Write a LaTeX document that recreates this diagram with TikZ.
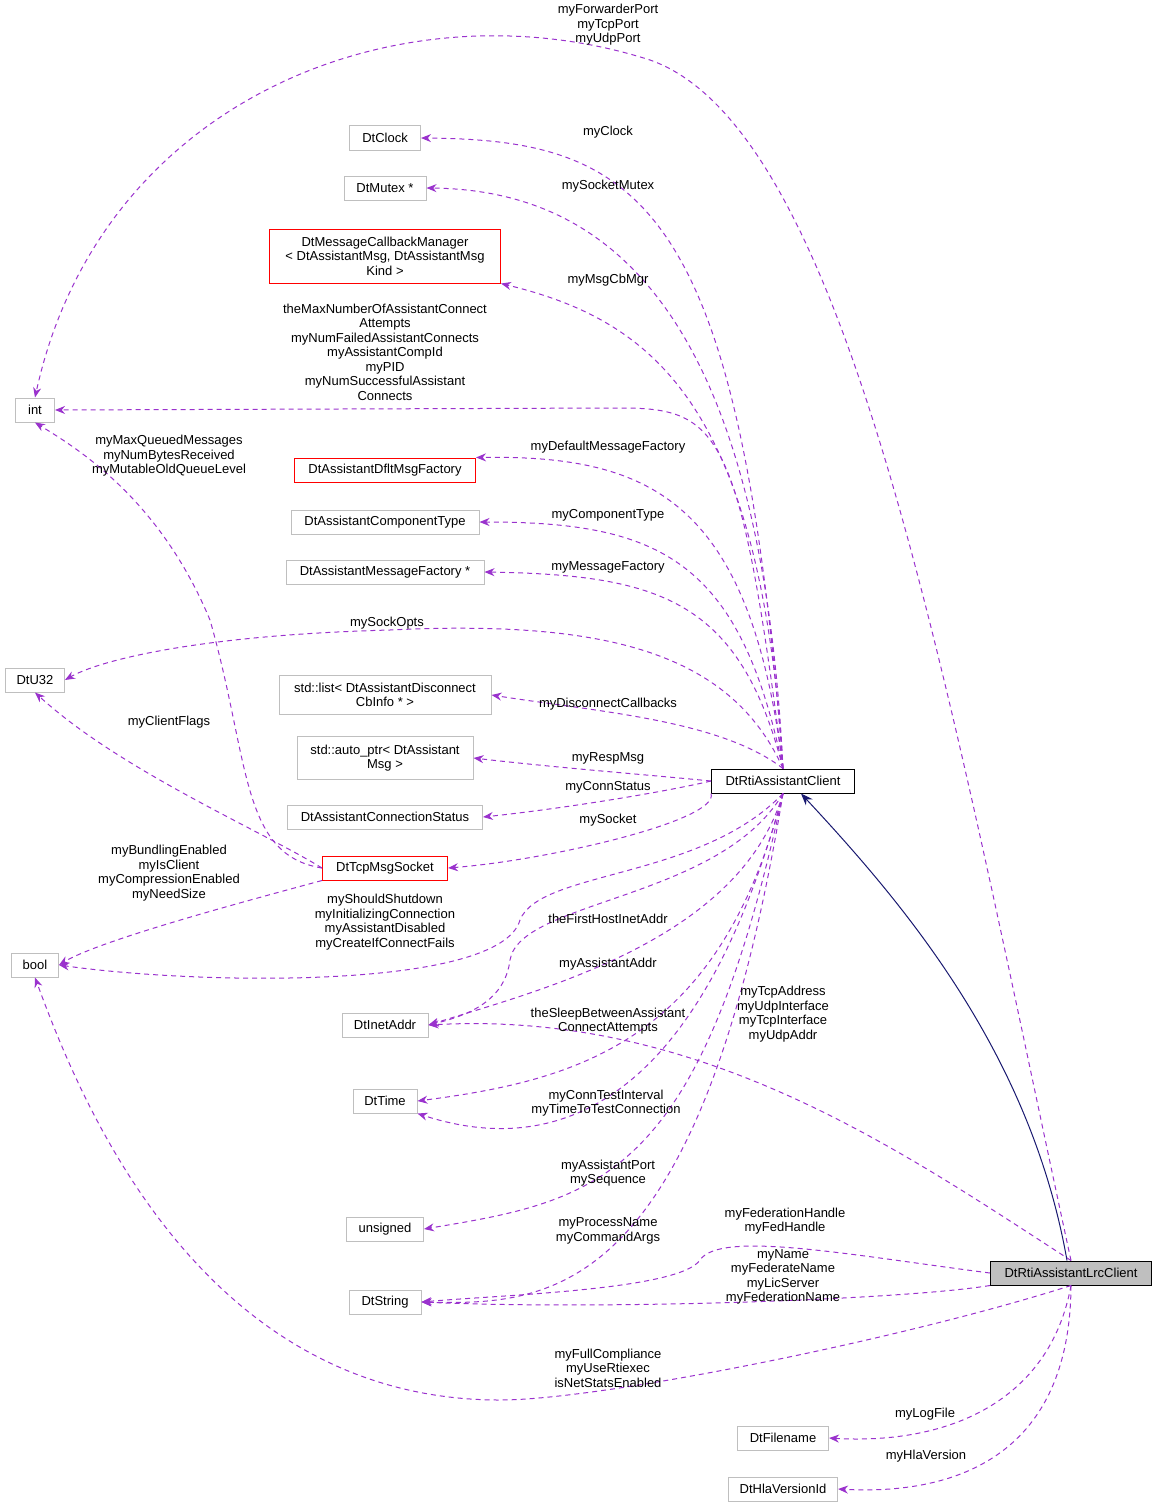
\documentclass[tikz,border=0pt]{standalone}
\usepackage{fontspec}
\setmainfont{Liberation Sans}
\usetikzlibrary{arrows.meta, positioning}
\definecolor{depcol}{HTML}{9A32CD}
\definecolor{boxgray}{HTML}{BFBFBF}
\definecolor{inhcol}{HTML}{191970}
\tikzset{
  cls/.style={draw=boxgray, fill=white, line width=1pt, inner sep=2pt, minimum height=24pt, align=center, font=\fontsize{13}{14.5}\selectfont},
  redcls/.style={cls, draw=red},
  dep/.style={draw=depcol, line width=1pt, dashed, dash pattern=on 5pt off 4pt, -{Stealth[length=10pt,width=8pt]}},
  inh/.style={draw=inhcol, line width=1pt, -{Stealth[length=12pt,width=9pt]}},
  lbl/.style={align=center, font=\fontsize{13}{14.5}\selectfont, inner sep=0pt}
}
\begin{document}
\begin{tikzpicture}[x=1pt,y=-1pt]
\useasboundingbox (0,0) rectangle (1157,1509);
% classes
\node[cls, minimum width=39pt] (intty) at (35,410) {int};
\node[cls, minimum width=71pt] (clock) at (385,138) {DtClock};
\node[cls, minimum width=82pt] (mutex) at (385,188) {DtMutex *};
\node[redcls, minimum width=231pt, minimum height=54pt] (cbmgr) at (385,256) {DtMessageCallbackManager\\ \textless\ DtAssistantMsg, DtAssistantMsg\\ Kind \textgreater};
\node[redcls, minimum width=181pt] (dflt) at (385,470) {DtAssistantDfltMsgFactory};
\node[cls, minimum width=188pt] (comptype) at (385,522) {DtAssistantComponentType};
\node[cls, minimum width=198pt] (msgfact) at (385,572) {DtAssistantMessageFactory *};
\node[cls, minimum width=59pt] (uint) at (35,680) {DtU32};
\node[cls, minimum width=212pt, minimum height=39pt] (dlist) at (385,695) {std::list\textless\ DtAssistantDisconnect\\ CbInfo * \textgreater};
\node[cls, minimum width=176pt, minimum height=43pt] (respmsg) at (385,758) {std::auto\_ptr\textless\ DtAssistant\\ Msg \textgreater};
\node[cls, minimum width=195pt] (connstat) at (385,817) {DtAssistantConnectionStatus};
\node[redcls, minimum width=125pt] (tcpsock) at (385,868) {DtTcpMsgSocket};
\node[cls, draw=black, minimum width=143pt] (client) at (783,781) {DtRtiAssistantClient};
\node[cls, minimum width=47pt] (booly) at (35,965) {bool};
\node[cls, minimum width=86pt] (inet) at (385,1025) {DtInetAddr};
\node[cls, minimum width=64pt] (dttime) at (385,1101) {DtTime};
\node[cls, minimum width=77pt] (unsig) at (385,1229) {unsigned};
\node[cls, minimum width=72pt] (dtstr) at (385,1302) {DtString};
\node[cls, draw=black, fill=boxgray, minimum width=161pt] (lrc) at (1071,1273) {DtRtiAssistantLrcClient};
\node[cls, minimum width=91pt] (fname) at (783,1438) {DtFilename};
\node[cls, minimum width=109pt] (hlaver) at (783,1489) {DtHlaVersionId};
% inheritance
\draw[inh] ([xshift=-4pt]lrc.north) .. controls (1030,1050) and (900,900) .. ([xshift=18pt]client.south);
% members of DtRtiAssistantClient
\draw[dep] (client.north) .. controls (740,200) and (640,140) .. (clock.east);
\draw[dep] (client.north) .. controls (760,300) and (600,190) .. (mutex.east);
\draw[dep] (client.north) .. controls (760,400) and (650,320) .. (cbmgr.south east);
\draw[dep] (client.north) .. controls (740,430) and (720,408) .. (620,408) -- (intty.east);
\draw[dep] (client.north) .. controls (750,500) and (650,455) .. (dflt.north east);
\draw[dep] (client.north) .. controls (740,560) and (660,522) .. (comptype.east);
\draw[dep] (client.north) .. controls (740,600) and (660,575) .. (msgfact.east);
\draw[dep] (client.north) .. controls (730,650) and (600,620) .. (390,630) .. controls (200,635) and (100,660) .. (uint.east);
\draw[dep] (client.north) .. controls (720,720) and (600,712) .. (dlist.east);
\draw[dep] (client.west) .. controls (650,775) and (560,768) .. (respmsg.east);
\draw[dep] (client.west) .. controls (650,795) and (550,810) .. (connstat.east);
\draw[dep] (client.south west) .. controls (720,820) and (550,860) .. (tcpsock.east);
\draw[dep] (client.south) .. controls (700,880) and (540,870) .. (520,920) .. controls (500,990) and (200,985) .. (booly.east);
\draw[dep] (client.south) .. controls (720,900) and (520,900) .. (510,960) .. controls (505,1000) and (470,1015) .. (inet.east);
\draw[dep] (client.south) .. controls (740,940) and (540,990) .. (inet.east);
\draw[dep] (client.south) .. controls (720,1040) and (580,1080) .. (dttime.east);
\draw[dep] (client.south) .. controls (700,1100) and (560,1160) .. (dttime.south east);
\draw[dep] (client.south) .. controls (700,1180) and (600,1200) .. (unsig.east);
\draw[dep] (client.south) .. controls (700,1300) and (550,1305) .. (dtstr.east);
% members of DtRtiAssistantLrcClient
\draw[dep] (lrc.north) .. controls (900,1150) and (700,1010) .. (inet.east);
\draw[dep] (lrc.west) .. controls (850,1255) and (720,1230) .. (700,1260) .. controls (680,1290) and (500,1295) .. (dtstr.east);
\draw[dep] (lrc.south west) .. controls (900,1300) and (600,1310) .. (dtstr.east);
\draw[dep] (lrc.south) .. controls (900,1340) and (600,1400) .. (500,1400) .. controls (200,1400) and (80,1100) .. (booly.south);
\draw[dep] (lrc.south) .. controls (1050,1400) and (950,1445) .. (fname.east);
\draw[dep] (lrc.south) .. controls (1070,1460) and (950,1495) .. (hlaver.east);
\draw[dep] (lrc.north) .. controls (950,700) and (850,130) .. (650,60) .. controls (400,-20) and (100,100) .. (intty.north);
% members of DtTcpMsgSocket
\draw[dep] (tcpsock.west) .. controls (240,855) and (250,760) .. (210,620) .. controls (160,500) and (80,450) .. (intty.south);
\draw[dep] (tcpsock.west) .. controls (260,830) and (120,770) .. (uint.south);
\draw[dep] (tcpsock.south west) .. controls (250,900) and (100,940) .. (booly.east);
% labels
\node[lbl] (l01) at (608,25) {myForwarderPort\\myTcpPort\\myUdpPort};
\node[lbl] (l02) at (608,132) {myClock};
\node[lbl] (l03) at (608,186) {mySocketMutex};
\node[lbl] (l04) at (608,280) {myMsgCbMgr};
\node[lbl] (l05) at (385,352) {theMaxNumberOfAssistantConnect\\Attempts\\myNumFailedAssistantConnects\\myAssistantCompId\\myPID\\myNumSuccessfulAssistant\\Connects};
\node[lbl] (l06) at (169,456) {myMaxQueuedMessages\\myNumBytesReceived\\myMutableOldQueueLevel};
\node[lbl] (l07) at (608,447) {myDefaultMessageFactory};
\node[lbl] (l08) at (608,515) {myComponentType};
\node[lbl] (l09) at (608,567) {myMessageFactory};
\node[lbl] (l10) at (387,623) {mySockOpts};
\node[lbl] (l11) at (608,704) {myDisconnectCallbacks};
\node[lbl] (l12) at (169,722) {myClientFlags};
\node[lbl] (l13) at (608,758) {myRespMsg};
\node[lbl] (l14) at (608,787) {myConnStatus};
\node[lbl] (l15) at (608,820) {mySocket};
\node[lbl] (l16) at (169,873) {myBundlingEnabled\\myIsClient\\myCompressionEnabled\\myNeedSize};
\node[lbl] (l17) at (385,922) {myShouldShutdown\\myInitializingConnection\\myAssistantDisabled\\myCreateIfConnectFails};
\node[lbl] (l18) at (608,919) {theFirstHostInetAddr};
\node[lbl] (l19) at (608,964) {myAssistantAddr};
\node[lbl] (l20) at (783,1014) {myTcpAddress\\myUdpInterface\\myTcpInterface\\myUdpAddr};
\node[lbl] (l21) at (608,1021) {theSleepBetweenAssistant\\ConnectAttempts};
\node[lbl] (l22) at (606,1103) {myConnTestInterval\\myTimeToTestConnection};
\node[lbl] (l23) at (608,1173) {myAssistantPort\\mySequence};
\node[lbl] (l24) at (785,1221) {myFederationHandle\\myFedHandle};
\node[lbl] (l25) at (608,1231) {myProcessName\\myCommandArgs};
\node[lbl] (l26) at (783,1277) {myName\\myFederateName\\myLicServer\\myFederationName};
\node[lbl] (l27) at (608,1368) {myFullCompliance\\myUseRtiexec\\isNetStatsEnabled};
\node[lbl] (l28) at (925,1414) {myLogFile};
\node[lbl] (l29) at (926,1456) {myHlaVersion};
\end{tikzpicture}
\end{document}
